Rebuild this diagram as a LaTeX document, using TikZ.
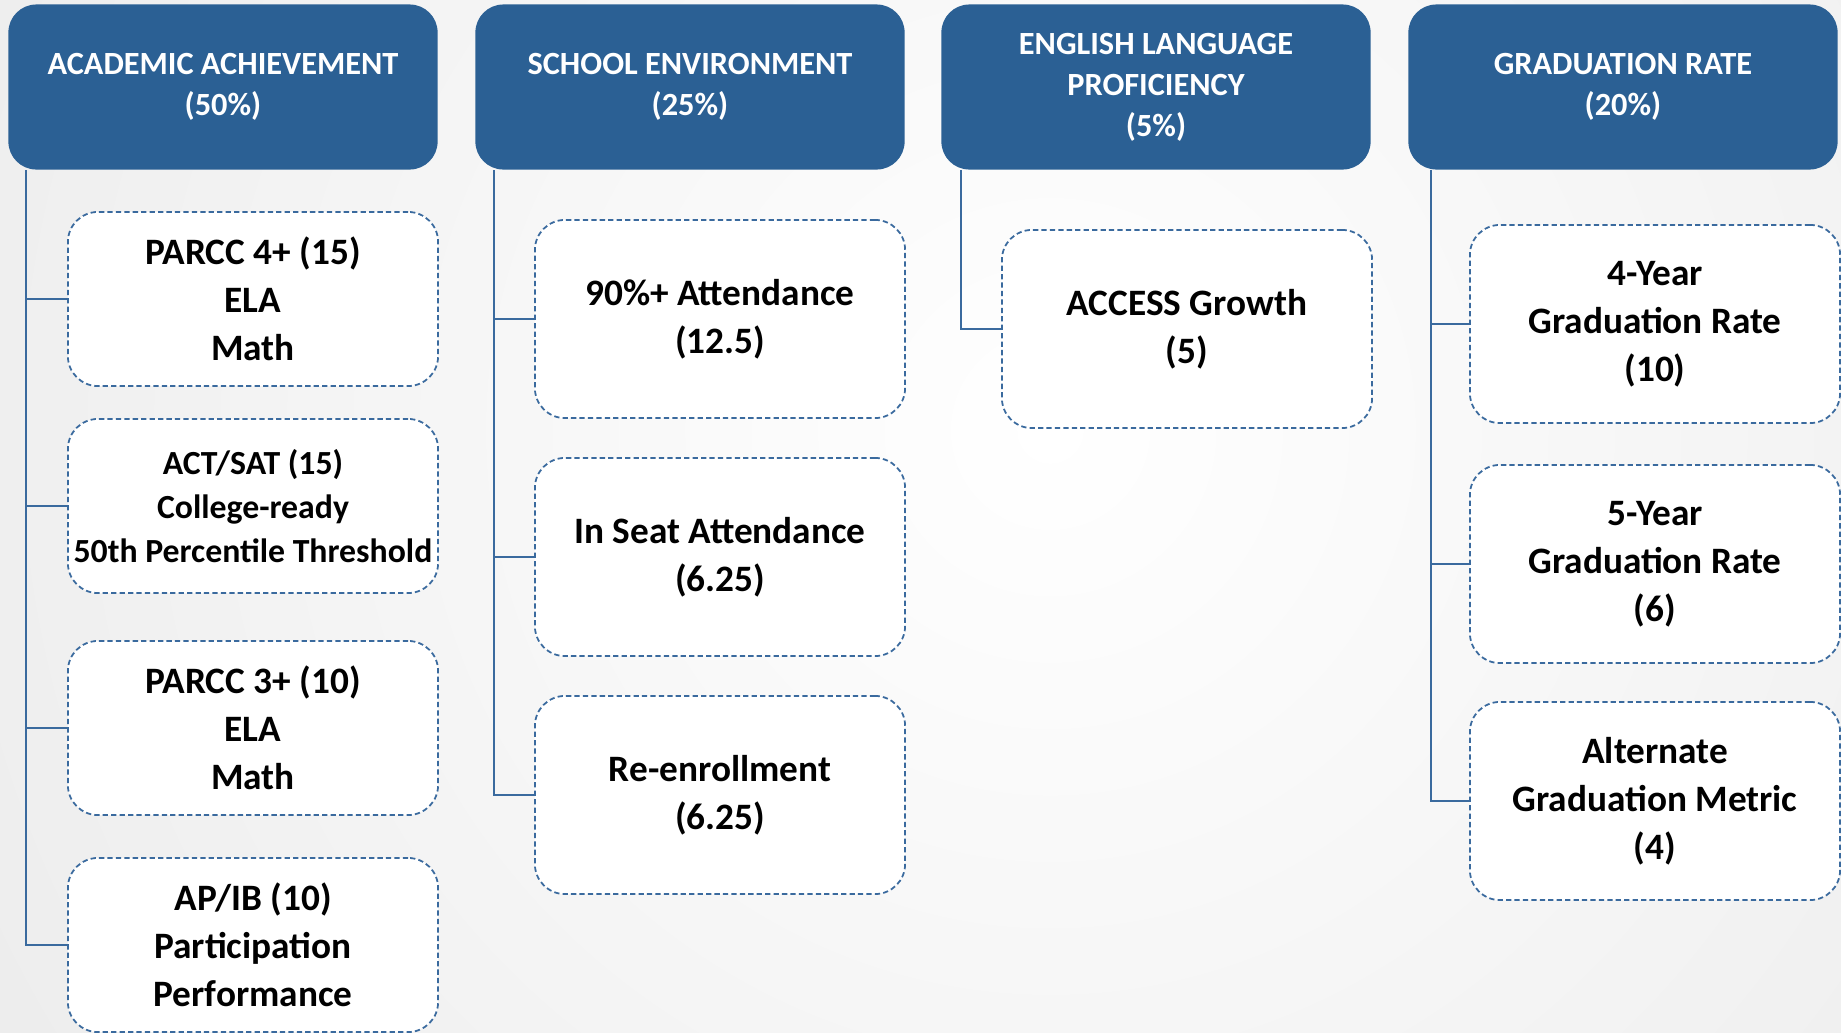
\documentclass[tikz,border=0pt]{standalone}
\usepackage{fontspec}
\setmainfont{Carlito}
\usetikzlibrary{calc}
\definecolor{headblue}{HTML}{2B6094}
\definecolor{lineblue}{HTML}{3A6A9E}

\begin{document}
\begin{tikzpicture}[x=0.01cm, y=-0.01cm,
    head/.style={rectangle, rounded corners=0.28cm, fill=headblue, text=white,
      font=\bfseries\fontsize{9.2}{11.7}\selectfont, align=center,
      minimum width=4.29cm, minimum height=1.65cm, inner sep=0pt},
    item/.style={rectangle, rounded corners=0.3cm, draw=lineblue, line width=0.5pt,
      dash pattern=on 1.5pt off 0.9pt, fill=white,
      font=\bfseries\fontsize{10.6}{13.7}\selectfont, align=center,
      minimum width=3.7cm, minimum height=1.98cm, inner sep=0pt},
    short/.style={minimum height=1.74cm},
    link/.style={draw=lineblue, line width=0.6pt}]
		%%%%% BACKGROUND %%%%%
		\useasboundingbox (0,0) rectangle (1841,1033);
		\begin{scope}
			\clip (0,0) rectangle (1841,1033);
			\shade[inner color=white, outer color=black!13] (1050,430) circle (22cm);
		\end{scope}
		
		%%%%% HEADERS %%%%%
		\node[head] (hA) at (223,87) {ACADEMIC ACHIEVEMENT\\(50\%)};
		\node[head] (hB) at (690,87) {SCHOOL ENVIRONMENT\\(25\%)};
		\node[head] (hC) at (1156,87) {ENGLISH LANGUAGE\\PROFICIENCY\\(5\%)};
		\node[head] (hD) at (1623,87) {GRADUATION RATE\\(20\%)};
		
		%%%%% ACADEMIC ACHIEVEMENT %%%%%
		\node[item, short] (a1) at (253,299) {PARCC 4+ (15)\\ELA\\Math};
		\node[item, short, font=\bfseries\fontsize{9.6}{12.6}\selectfont] (a2) at (253,506) {ACT/SAT (15)\\College-ready\\50th Percentile Threshold};
		\node[item, short] (a3) at (253,728) {PARCC 3+ (10)\\ELA\\Math};
		\node[item, short] (a4) at (253,945) {AP/IB (10)\\Participation\\Performance};
		
		%%%%% SCHOOL ENVIRONMENT %%%%%
		\node[item] (b1) at (720,319) {90\%+ Attendance\\(12.5)};
		\node[item] (b2) at (720,557) {In Seat Attendance\\(6.25)};
		\node[item] (b3) at (720,795) {Re-enrollment\\(6.25)};
		
		%%%%% ENGLISH LANGUAGE PROFICIENCY %%%%%
		\node[item] (c1) at (1187,329) {ACCESS Growth\\(5)};
		
		%%%%% GRADUATION RATE %%%%%
		\node[item] (d1) at (1655,324) {4-Year\\Graduation Rate\\(10)};
		\node[item] (d2) at (1655,564) {5-Year\\Graduation Rate\\(6)};
		\node[item] (d3) at (1655,801) {Alternate\\Graduation Metric\\(4)};
		
		%%%%% LINKS %%%%%
		\coordinate (tA) at ($(hA.south west)+(18,0)$);
		\coordinate (tB) at ($(hB.south west)+(19,0)$);
		\coordinate (tC) at ($(hC.south west)+(20,0)$);
		\coordinate (tD) at ($(hD.south west)+(23,0)$);
		
		\foreach \k in {a1,a2,a3,a4}
			\draw[link] (tA) |- (\k.west);
		\foreach \k in {b1,b2,b3}
			\draw[link] (tB) |- (\k.west);
		\draw[link] (tC) |- (c1.west);
		\foreach \k in {d1,d2,d3}
			\draw[link] (tD) |- (\k.west);
		
	\end{tikzpicture}
\end{document}
